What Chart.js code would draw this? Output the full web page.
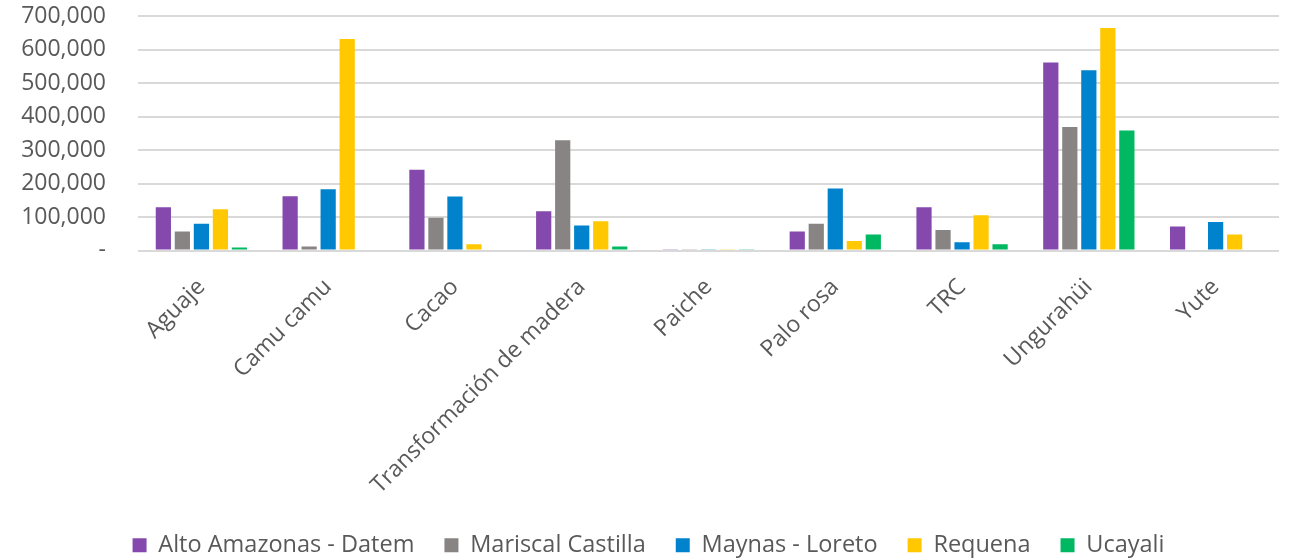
<!DOCTYPE html>
<html>
<head>
<meta charset="utf-8">
<script src="https://cdn.jsdelivr.net/npm/chart.js@4"></script>
<style>
  html, body { margin: 0; padding: 0; background: #fff; }
  #wrap { width: 1289px; height: 559px; }
</style>
</head>
<body>
<div id="wrap"><canvas id="chart"></canvas></div>
<script>
// Data

const categories = ['Aguaje', 'Camu camu', 'Cacao', 'Transformación de madera', 'Paiche', 'Palo rosa', 'TRC', 'Ungurahüi', 'Yute'];

const altoAmazonas = [129000, 162000, 241000, 117000, 2000, 57000, 129000, 561000, 72000];
const mariscalCastilla = [57000, 12000, 98000, 329000, 2000, 80000, 61000, 369000, 0];
const maynasLoreto = [80000, 183000, 161000, 75000, 2000, 185000, 25000, 538000, 85000];
const requena = [123000, 631000, 19000, 87000, 2000, 28000, 105000, 664000, 48000];
const ucayali = [9000, 0, 3000, 12000, 2000, 48000, 19000, 358000, 0];

const yTicks = [0, 100000, 200000, 300000, 400000, 500000, 600000, 700000];

// Chart

const textColor = '#595959';
Chart.defaults.font.family = '"Open Sans", sans-serif';
Chart.defaults.color = textColor;

const chartData = {
  labels: categories,
  datasets: [
    { label: 'Alto Amazonas - Datem', data: altoAmazonas, backgroundColor: '#8548ad' },
    { label: 'Mariscal Castilla', data: mariscalCastilla, backgroundColor: '#878483' },
    { label: 'Maynas - Loreto', data: maynasLoreto, backgroundColor: '#0082cd' },
    { label: 'Requena', data: requena, backgroundColor: '#ffc800' },
    { label: 'Ucayali', data: ucayali, backgroundColor: '#00b862' }
  ]
};

const chartOptions = {
  responsive: true,
  maintainAspectRatio: false,
  animation: false,
  datasets: {
    bar: {
      categoryPercentage: 0.75,
      barPercentage: 0.8
    }
  },
  layout: {
    padding: { left: 18, right: 10, top: 16, bottom: -8 }
  },
  scales: {
    x: {
      grid: { display: false },
      border: { display: false },
      ticks: {
        maxRotation: 45,
        minRotation: 45,
        padding: 15,
        font: { size: 23 }
      },
      afterFit: (scale) => {
        scale.height = 253;
        scale.paddingLeft = 0;
        scale.paddingRight = 0;
      }
    },
    y: {
      min: 0,
      max: 700000,
      afterBuildTicks: (axis) => {
        axis.ticks = yTicks.map(v => ({ value: v }));
      },
      grid: { color: '#d9d9d9', lineWidth: 2, drawTicks: false },
      border: { display: false },
      ticks: {
        padding: 32,
        font: { size: 23 },
        callback: (v) => v === 0 ? '-' : v.toLocaleString('en-US')
      },
      afterFit: (scale) => {
        scale.width = 120;
        scale.paddingTop = 0;
        scale.paddingBottom = 0;
      }
    }
  },
  plugins: {
    legend: {
      position: 'bottom',
      labels: {
        boxWidth: 14,
        boxHeight: 14,
        padding: 30,
        font: { size: 23.5 },
        color: textColor
      }
    },
    tooltip: { enabled: false }
  }
};

const barChart = new Chart(document.querySelector('#chart'), {
  type: 'bar',
  data: chartData,
  options: chartOptions
});
</script>
</body>
</html>
